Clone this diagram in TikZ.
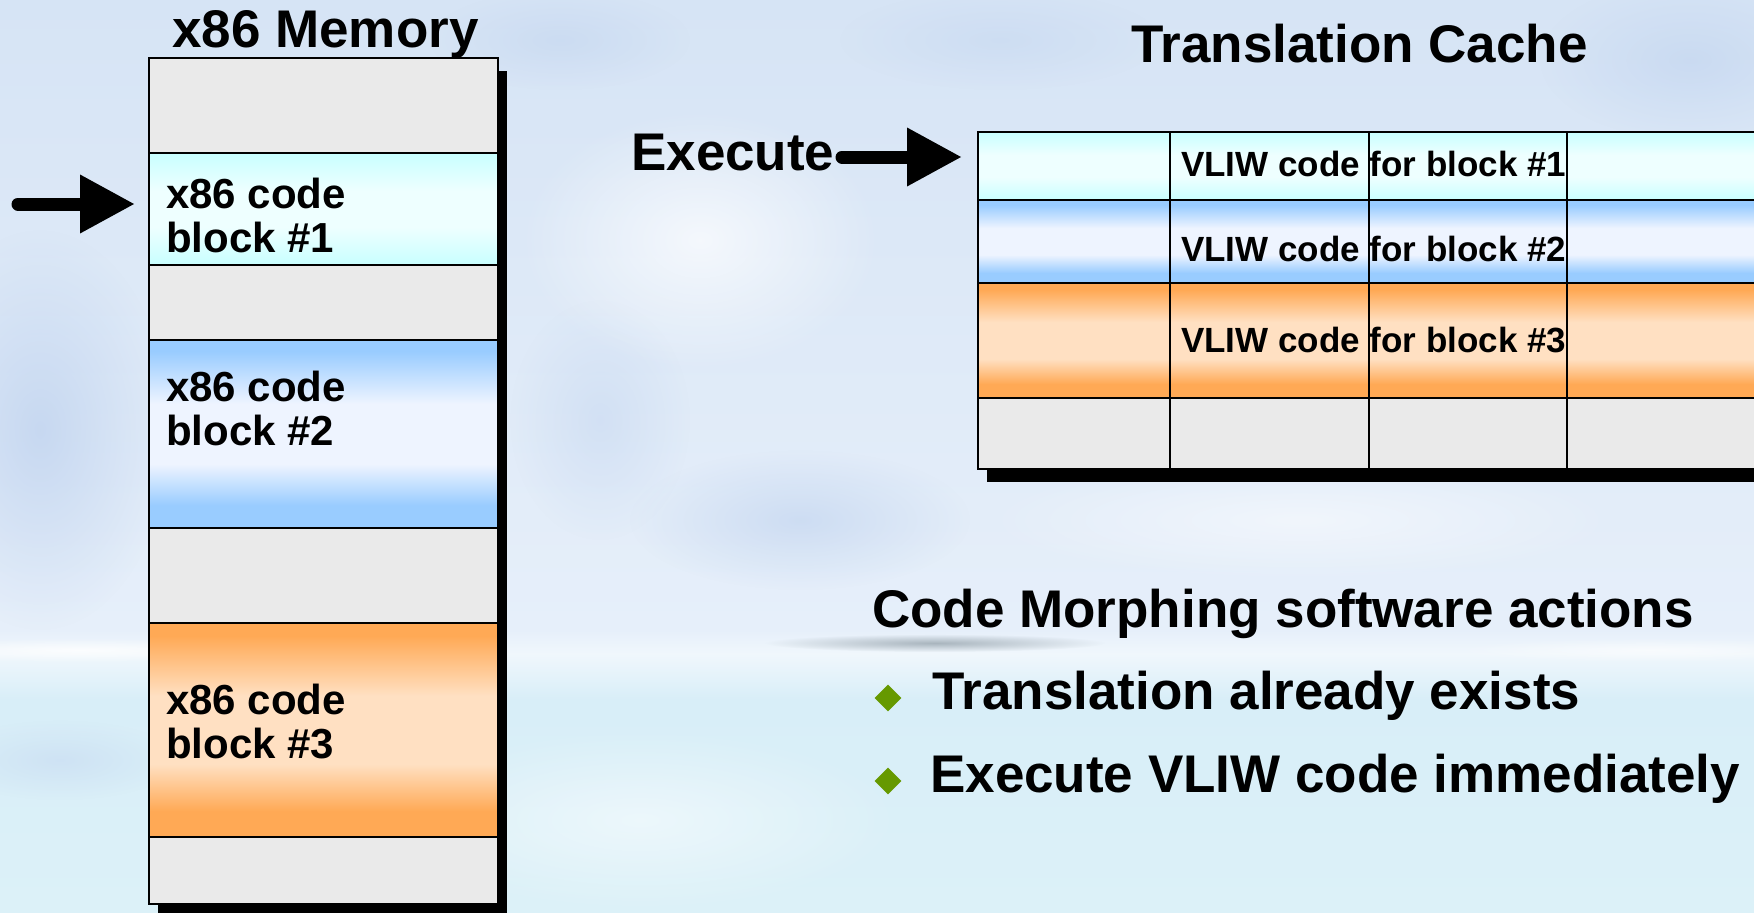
\documentclass[tikz,border=0pt]{standalone}
\usepackage{fontspec}
\setmainfont{Liberation Sans}
\usetikzlibrary{arrows.meta,shapes.geometric,fadings}

% palette
\definecolor{cellgray}{HTML}{EAEAEA}
\definecolor{cyanA}{HTML}{C8FFFF}
\definecolor{cyanB}{HTML}{EEFFFF}
\definecolor{blueA}{HTML}{99CCFF}
\definecolor{blueB}{HTML}{EEF4FF}
\definecolor{orangeA}{HTML}{FFA955}
\definecolor{orangeB}{HTML}{FFE0C2}
\definecolor{bulletgreen}{HTML}{669900}
\definecolor{skyA}{HTML}{D6E4F5}
\definecolor{skyB}{HTML}{E6EFFA}
\definecolor{horizon}{HTML}{F0F7FC}
\definecolor{seaA}{HTML}{D8EEF8}
\definecolor{seaB}{HTML}{DCF1F8}
\definecolor{cloudblue}{HTML}{C4D6F0}
\definecolor{island}{HTML}{A9B5BE}

% banded fills: strong colour at top and bottom, pale band in the middle
\pgfdeclareverticalshading{cyanband}{100bp}{color(0bp)=(cyanA); color(25bp)=(cyanA); color(42bp)=(cyanB); color(58bp)=(cyanB); color(75bp)=(cyanA); color(100bp)=(cyanA)}
\pgfdeclareverticalshading{blueband}{100bp}{color(0bp)=(blueA); color(25bp)=(blueA); color(31bp)=(blueA); color(42bp)=(blueB); color(58bp)=(blueB); color(72bp)=(blueA); color(100bp)=(blueA)}
\pgfdeclareverticalshading{orangeband}{100bp}{color(0bp)=(orangeA); color(25bp)=(orangeA); color(31bp)=(orangeA); color(42bp)=(orangeB); color(58bp)=(orangeB); color(72bp)=(orangeA); color(100bp)=(orangeA)}
% sky over sea
\pgfdeclareverticalshading{skyfill}{100bp}{color(0bp)=(seaB); color(25bp)=(seaB); color(36.7bp)=(seaA); color(39.2bp)=(horizon); color(40.5bp)=(skyB); color(75bp)=(skyA); color(100bp)=(skyA)}

\tikzfading[name=softblob, inner color=transparent!0, outer color=transparent!100]

\begin{document}
\begin{tikzpicture}[x=1pt,y=-1pt,
  cellbase/.style={inner sep=0pt, outer sep=0pt, anchor=north west},
  memcell/.style={cellbase, minimum width=349pt},
  graycell/.style={fill=cellgray},
  cyancell/.style={shade, shading=cyanband},
  bluecell/.style={shade, shading=blueband},
  orangecell/.style={shade, shading=orangeband},
  memline/.style={draw=black, line width=2pt},
  cacheline/.style={draw=black, line width=2.5pt},
  titletext/.style={font=\fontsize{53}{60}\selectfont\bfseries, inner sep=0pt, anchor=base west},
  blocklabel/.style={font=\fontsize{42}{44}\selectfont\bfseries, align=left, inner sep=0pt, anchor=north west},
  vliwtext/.style={font=\fontsize{35}{40}\selectfont\bfseries, inner sep=0pt, anchor=base west},
  bigarrow/.style={line width=13pt, line cap=round, -{Triangle[length=55pt,width=55pt]}},
  bulletmark/.style={diamond, fill=bulletgreen, inner sep=0pt, minimum width=27pt, minimum height=27pt},
  blob/.style={path fading=softblob}
]
\useasboundingbox (0,0) rectangle (1754,913);
\clip (0,0) rectangle (1754,913);

% background: sky, clouds, horizon and island
\shade[shading=skyfill] (0,0) rectangle (1754,913);
\fill[cloudblue, blob, opacity=.9] (40,430) ellipse (130 and 200);
\fill[cloudblue, blob, opacity=.7] (800,520) ellipse (170 and 70);
\fill[cloudblue, blob, opacity=.7] (1690,60) ellipse (150 and 80);
\fill[cloudblue, blob, opacity=.6] (560,40) ellipse (130 and 50);
\fill[cloudblue, blob, opacity=.5] (1000,40) ellipse (160 and 50);
\fill[cloudblue, blob, opacity=.5] (600,420) ellipse (90 and 120);
\fill[white, blob, opacity=.7] (700,240) ellipse (180 and 130);
\fill[white, blob, opacity=.5] (1300,520) ellipse (320 and 60);
\fill[white, blob, opacity=.5] (640,820) ellipse (260 and 90);
\fill[white, blob, opacity=.8] (80,650) ellipse (200 and 12);
\fill[white, blob, opacity=.6] (1650,650) ellipse (200 and 12);
\fill[island, blob] (935,643) ellipse (170 and 9);
\fill[cloudblue, blob, opacity=.5] (60,760) ellipse (120 and 40);

% drop shadows
\fill[black] (158,71) rectangle (507,920);
\fill[black] (987,145) rectangle (1775,482);

% x86 memory column
\node[memcell, graycell,   minimum height=95pt]  (m1) at (149,58)  {};
\node[memcell, cyancell,   minimum height=112pt] (b1) at (149,153) {};
\node[memcell, graycell,   minimum height=75pt]  (m2) at (149,265) {};
\node[memcell, bluecell,   minimum height=188pt] (b2) at (149,340) {};
\node[memcell, graycell,   minimum height=95pt]  (m3) at (149,528) {};
\node[memcell, orangecell, minimum height=214pt] (b3) at (149,623) {};
\node[memcell, graycell,   minimum height=67pt]  (m4) at (149,837) {};
\foreach \n in {m1,b1,m2,b2,m3,b3,m4}
  \draw[memline] (\n.north west) rectangle (\n.south east);

% translation cache table
\foreach \c/\x/\w in {1/978/192, 2/1170/199, 3/1369/198, 4/1567/199} {
  \node[cellbase, cyancell,   minimum width=\w pt, minimum height=68pt]  (t1c\c) at (\x,132) {};
  \node[cellbase, bluecell,   minimum width=\w pt, minimum height=83pt]  (t2c\c) at (\x,200) {};
  \node[cellbase, orangecell, minimum width=\w pt, minimum height=115pt] (t3c\c) at (\x,283) {};
  \node[cellbase, graycell,   minimum width=\w pt, minimum height=71pt]  (t4c\c) at (\x,398) {};
}
\foreach \r in {1,2,3,4}
  \foreach \c in {1,2,3,4}
    \draw[cacheline] (t\r c\c.north west) rectangle (t\r c\c.south east);

% labels
\node[titletext] (memtitle) at (172,47) {x86 Memory};
\node[titletext] (cachetitle) at (1131,62) {Translation Cache};
\node[titletext] (exec) at (631,170) {Execute};

\node[blocklabel] (l1) at (166,178) {x86 code\\block \#1};
\node[blocklabel] (l2) at (166,371) {x86 code\\block \#2};
\node[blocklabel] (l3) at (166,684) {x86 code\\block \#3};

\node[vliwtext] (v1) at (1181,176) {VLIW code for block \#1};
\node[vliwtext] (v2) at (1181,261) {VLIW code for block \#2};
\node[vliwtext] (v3) at (1181,352) {VLIW code for block \#3};

% arrows
\coordinate (lefttail) at (18,204);
\draw[bigarrow, shorten >=14pt] (lefttail) -- (lefttail -| b1.west);
\coordinate (exectail) at (842,157);
\draw[bigarrow, shorten >=16pt] (exectail) -- (exectail -| t1c1.west);

% actions list
\node[titletext] (actions) at (872,627) {Code Morphing software actions};
\node[bulletmark] (d1) at (888,698) {};
\node[titletext] (a1) at (932,709) {Translation already exists};
\node[bulletmark] (d2) at (888,781) {};
\node[titletext] (a2) at (930,792) {Execute VLIW code immediately};
\end{tikzpicture}
\end{document}
